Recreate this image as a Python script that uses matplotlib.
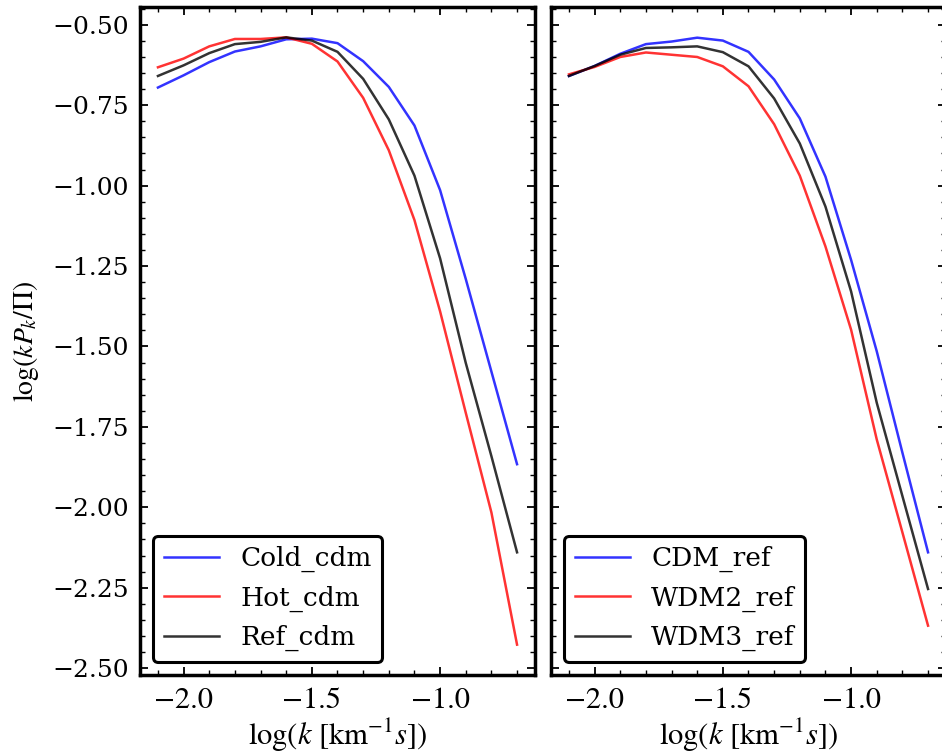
import numpy as np
import matplotlib
matplotlib.use("Agg")
import matplotlib.pyplot as plt
from matplotlib.ticker import MultipleLocator

plt.rcParams['mathtext.fontset'] = 'stix'
plt.rcParams['font.family'] = ['DejaVu Serif']

log_k = [-2.1, -2.0, -1.9, -1.8, -1.7, -1.6, -1.5, -1.4, -1.3, -1.2, -1.1, -1.0, -0.9, -0.8, -0.7]

cold_cdm = [-0.695, -0.657, -0.616, -0.583, -0.567, -0.545, -0.543, -0.557, -0.613, -0.693,
            -0.813, -1.014, -1.290, -1.578, -1.866]
hot_cdm = [-0.632, -0.605, -0.567, -0.544, -0.544, -0.539, -0.559, -0.614, -0.727, -0.890,
           -1.107, -1.391, -1.706, -2.016, -2.427]
ref_cdm = [-0.659, -0.626, -0.588, -0.560, -0.553, -0.539, -0.549, -0.584, -0.668, -0.794,
           -0.969, -1.226, -1.551, -1.841, -2.140]

cdm_ref = [-0.659, -0.628, -0.590, -0.560, -0.552, -0.540, -0.549, -0.584, -0.670, -0.791,
           -0.972, -1.231, -1.515, -1.830, -2.140]
wdm2_ref = [-0.654, -0.631, -0.600, -0.586, -0.593, -0.600, -0.629, -0.691, -0.809, -0.969,
            -1.189, -1.448, -1.789, -2.078, -2.368]
wdm3_ref = [-0.659, -0.628, -0.593, -0.572, -0.570, -0.567, -0.585, -0.629, -0.729, -0.869,
            -1.065, -1.329, -1.675, -1.965, -2.254]

left_labels = ['Cold_cdm', 'Hot_cdm', 'Ref_cdm']
right_labels = ['CDM_ref', 'WDM2_ref', 'WDM3_ref']
colors = ['b', 'r', 'k']

fig = plt.figure(figsize=(9.42, 7.56), dpi=100)
W, H = 942.0, 756.0
bottom = 1 - 675 / H
height = (675 - 7) / H
ax1 = fig.add_axes([140 / W, bottom, 395 / W, height])
ax2 = fig.add_axes([551 / W, bottom, 395 / W, height], sharey=ax1)

for ax, series, labels in [(ax1, [cold_cdm, hot_cdm, ref_cdm], left_labels),
                           (ax2, [cdm_ref, wdm2_ref, wdm3_ref], right_labels)]:
    for s, lab, c in zip(series, labels, colors):
        ax.plot(log_k, s, color=c, alpha=0.8, lw=1.8, label=lab)
    ax.xaxis.set_major_locator(MultipleLocator(0.5))
    ax.xaxis.set_minor_locator(MultipleLocator(0.1))
    ax.yaxis.set_major_locator(MultipleLocator(0.25))
    ax.yaxis.set_minor_locator(MultipleLocator(0.05))
    ax.tick_params(which='both', direction='in', top=True, right=True)
    ax.tick_params(which='major', length=6, width=1.3)
    ax.tick_params(which='minor', length=3.5, width=1.0)
    ax.tick_params(axis='x', which='major', pad=9)
    ax.tick_params(axis='y', which='major', pad=8)
    for sp in ax.spines.values():
        sp.set_linewidth(2.5)
    for t in ax.get_xticklabels():
        t.set_fontfamily('STIXGeneral')
        t.set_fontsize(22)
    ax.set_xlabel(r'$\log(k\ [\mathrm{km}^{-1}s])$', fontsize=22, labelpad=1.5)
    leg = ax.legend(loc='lower left', fontsize=19, frameon=True, fancybox=True,
                    framealpha=1, edgecolor='black', borderpad=0.4, handlelength=2.1,
                    labelspacing=0.5)
    leg.get_frame().set_linewidth(2.2)

for t in ax1.get_yticklabels():
    t.set_fontsize(18)
ax2.tick_params(axis='y', labelleft=False)
ax1.set_ylabel(r'$\log(kP_k/\mathit{\Pi})$', fontsize=20, labelpad=8)

fig.savefig('out.png', dpi=100)
